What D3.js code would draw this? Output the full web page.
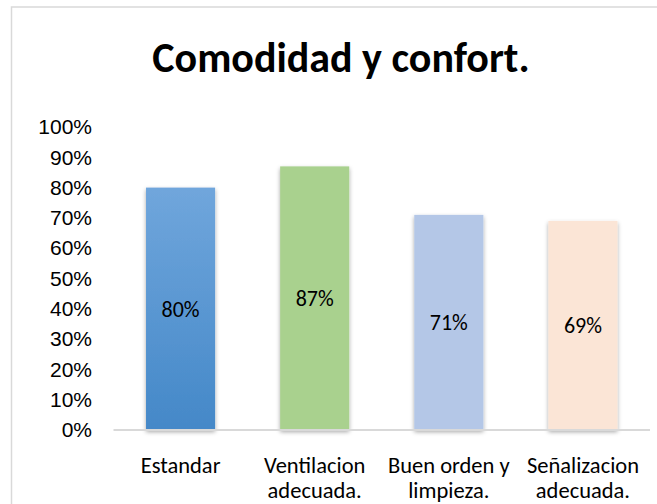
<!DOCTYPE html>
<html>
<head>
<meta charset="utf-8">
<script src="https://cdn.jsdelivr.net/npm/d3@7"></script>
<style>
	body { margin: 0; background: #fff; }
	svg { display: block; font-family: Carlito, Calibri, Lato, sans-serif; }
</style>
</head>
<body>
<div id="chart"></div>
<script>
const title = "Comodidad y confort.";
const categories = [
	["Estandar"],
	["Ventilacion", "adecuada."],
	["Buen orden y", "limpieza."],
	["Señalizacion", "adecuada."],
];
const values = [0.8, 0.87, 0.71, 0.69];
const tickValues = [0, 0.1, 0.2, 0.3, 0.4, 0.5, 0.6, 0.7, 0.8, 0.9, 1];

const width = 657,
	height = 504;

var svg = d3.select("#chart").append("svg").attr("width", width).attr("height", height);

// bar fills, first one is a gradient
let defs = svg.append("defs");
let grad = defs
	.append("linearGradient")
	.attr("id", "blueGrad")
	.attr("x1", 0)
	.attr("y1", 0)
	.attr("x2", 0)
	.attr("y2", 1);
grad.append("stop").attr("offset", "0%").attr("stop-color", "#70a6dc");
grad.append("stop").attr("offset", "100%").attr("stop-color", "#4488c8");

defs.append("filter")
	.attr("id", "shadow")
	.attr("x", "-20%")
	.attr("y", "-10%")
	.attr("width", "140%")
	.attr("height", "130%")
	.append("feDropShadow")
	.attr("dx", 0)
	.attr("dy", 2)
	.attr("stdDeviation", 2)
	.attr("flood-color", "#000")
	.attr("flood-opacity", 0.35);

const fills = ["url(#blueGrad)", "#a9d18e", "#b4c7e7", "#fbe5d6"];

// chart frame (only top and left edges fall inside the picture)
svg.append("rect")
	.attr("x", 11.5)
	.attr("y", 7)
	.attr("width", 700)
	.attr("height", 560)
	.attr("fill", "none")
	.attr("stroke", "#d9d9d9")
	.attr("stroke-width", 1.5);

svg.append("text")
	.attr("x", 341)
	.attr("y", 71.5)
	.attr("text-anchor", "middle")
	.attr("font-size", 42)
	.attr("font-weight", "bold")
	.attr("fill", "#000")
	.text(title);

var x = d3
	.scaleBand()
	.domain(d3.range(categories.length))
	.range([113.5, 650])
	.paddingInner(0.485)
	.paddingOuter(0.2425);

var y = d3.scaleLinear().domain([0, 1]).range([430, 127]);

// y axis labels, no line
var yAxis = svg
	.append("g")
	.attr("transform", "translate(92,0)")
	.call(d3.axisLeft(y).tickValues(tickValues).tickFormat(d3.format(".0%")).tickSize(0).tickPadding(0));
yAxis.select(".domain").remove();
yAxis.selectAll("text").attr("font-size", 21).attr("font-family", null).attr("fill", "#000");

// bars
var bar = svg
	.append("g")
	.selectAll("rect")
	.data(values)
	.enter()
	.append("rect")
	.attr("x", (d, i) => x(i))
	.attr("y", (d) => y(d))
	.attr("width", x.bandwidth())
	.attr("height", (d) => y(0) - y(d))
	.attr("fill", (d, i) => fills[i])
	.attr("filter", "url(#shadow)");

// baseline
svg.append("line")
	.attr("x1", 113.5)
	.attr("x2", 650)
	.attr("y1", y(0))
	.attr("y2", y(0))
	.attr("stroke", "#d9d9d9")
	.attr("stroke-width", 2);

// value labels centred in bar
svg.append("g")
	.selectAll("text")
	.data(values)
	.enter()
	.append("text")
	.attr("x", (d, i) => x(i) + x.bandwidth() / 2)
	.attr("y", (d) => (y(d) + y(0)) / 2)
	.attr("dy", "0.35em")
	.attr("text-anchor", "middle")
	.attr("font-size", 22)
	.attr("fill", "#000")
	.text((d) => d3.format(".0%")(d));

// category labels
var catLabel = svg
	.append("g")
	.selectAll("text")
	.data(categories)
	.enter()
	.append("text")
	.attr("x", (d, i) => x(i) + x.bandwidth() / 2)
	.attr("y", 473)
	.attr("text-anchor", "middle")
	.attr("font-size", 22.5)
	.attr("fill", "#000");

catLabel
	.selectAll("tspan")
	.data((d) => d)
	.enter()
	.append("tspan")
	.attr("x", function () {
		return this.parentNode.getAttribute("x");
	})
	.attr("dy", (d, i) => (i ? 25 : 0))
	.text((d) => d);
</script>
</body>
</html>
